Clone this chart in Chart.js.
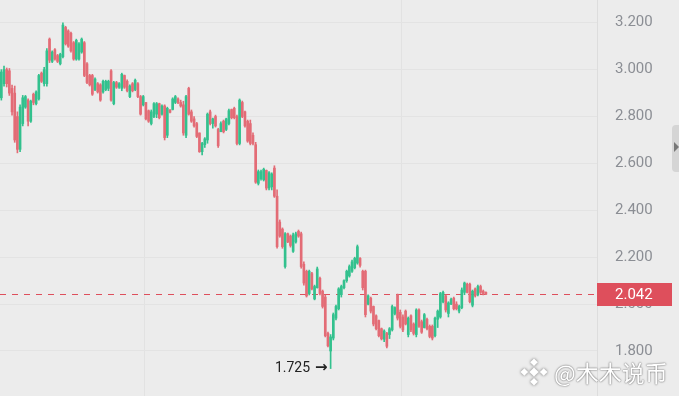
<!DOCTYPE html>
<html>
<head>
<meta charset="utf-8">
<script src="https://cdn.jsdelivr.net/npm/chart.js@4.4.1/dist/chart.umd.min.js"></script>
<style>
  html, body { margin: 0; padding: 0; background: #ececec; }
  #wrap { position: relative; width: 679px; height: 396px; overflow: hidden; }
  #tab { position: absolute; left: 672px; top: 125px; width: 10px; height: 47px; background: #d5d5d5; border-radius: 4px 0 0 4px; }
  #tab span { position: absolute; left: 2px; top: 17px; width: 0; height: 0; border-top: 5px solid transparent; border-bottom: 5px solid transparent; border-left: 5px solid #777; }
  #mark { position: absolute; left: 520px; top: 355px; display: flex; align-items: center; color: #fff;
          font-family: "Noto Sans CJK SC", sans-serif; font-size: 23px; text-shadow: 0 0 2px rgba(0,0,0,0.55), 0 0 1px rgba(0,0,0,0.4); }
  #mark svg { margin-right: 6px; filter: drop-shadow(0 0 1.5px rgba(0,0,0,0.55)); }
</style>
</head>
<body>
<div id="wrap">
  <canvas id="kline" width="679" height="396"></canvas>
  <div id="tab"><span></span></div>
  <div id="mark">
    <svg width="28" height="28" viewBox="0 0 26 26">
      <g fill="#fff">
        <rect x="10.5" y="1.5" width="5" height="5" transform="rotate(45 13 4)"/>
        <rect x="10.5" y="19.5" width="5" height="5" transform="rotate(45 13 22)"/>
        <rect x="1.5" y="10.5" width="5" height="5" transform="rotate(45 4 13)"/>
        <rect x="19.5" y="10.5" width="5" height="5" transform="rotate(45 22 13)"/>
        <rect x="10" y="10" width="6" height="6" transform="rotate(45 13 13)"/>
      </g>
    </svg>
    <span>@木木说币</span>
  </div>
</div>
<script>
// candles, oldest first
const opens = [
  2.88,2.94,3.00,2.995,2.92,2.90,2.80,2.66,2.77,2.84,
  2.87,2.78,2.895,2.855,2.875,2.985,2.94,2.94,3.13,3.035,
  3.085,3.06,3.025,3.055,3.18,3.165,3.155,3.115,3.045,3.045,
  3.075,3.115,3.025,2.975,2.975,2.915,2.94,2.935,2.905,2.915,
  2.92,2.995,2.855,2.945,2.925,2.92,2.975,2.95,2.885,2.94,
  2.915,2.94,2.885,2.85,2.86,2.825,2.77,2.80,2.81,2.855,
  2.81,2.845,2.72,2.828,2.83,2.86,2.875,2.86,2.85,2.72,
  2.92,2.82,2.79,2.77,2.73,2.65,2.68,2.70,2.82,2.77,
  2.80,2.745,2.735,2.78,2.745,2.77,2.83,2.835,2.80,2.685,
  2.86,2.82,2.78,2.77,2.72,2.68,2.515,2.535,2.53,2.57,
  2.495,2.50,2.58,2.46,2.35,2.32,2.16,2.30,2.29,2.225,
  2.265,2.31,2.30,2.17,2.14,2.045,2.13,2.022,2.07,2.11,
  2.055,2.03,1.875,1.80,1.855,1.94,1.98,2.04,2.07,2.10,
  2.12,2.14,2.155,2.175,2.195,2.14,2.14,2.00,2.025,1.99,
  1.95,1.93,1.895,1.85,1.875,1.87,1.89,1.96,2.04,1.965,
  1.945,1.97,1.87,1.95,1.915,1.87,1.975,1.925,1.90,1.935,
  1.905,1.905,1.865,1.935,1.945,2.01,2.035,1.96,2.00,2.025,
  2.00,1.97,1.985,2.05,2.085,2.085,1.995,2.065,2.04,2.075,
  2.055,2.05
];
const highs = [
  3.00,3.015,3.007,3.005,2.934,2.93,2.82,2.85,2.89,2.89,
  2.875,2.87,2.90,2.91,2.98,2.99,3.01,3.09,3.135,3.08,
  3.09,3.065,3.07,3.20,3.185,3.17,3.16,3.12,3.13,3.115,
  3.135,3.12,3.03,2.98,2.98,2.965,2.945,2.94,2.955,2.955,
  2.955,3.00,2.95,2.95,2.945,2.985,2.977,2.956,2.935,2.945,
  2.96,2.945,2.89,2.89,2.86,2.828,2.828,2.86,2.86,2.857,
  2.85,2.85,2.84,2.83,2.88,2.89,2.88,2.87,2.865,2.89,
  2.925,2.828,2.80,2.775,2.73,2.69,2.71,2.815,2.828,2.793,
  2.806,2.75,2.777,2.785,2.793,2.832,2.832,2.84,2.806,2.875,
  2.866,2.823,2.785,2.785,2.73,2.69,2.572,2.572,2.58,2.572,
  2.565,2.56,2.59,2.487,2.359,2.325,2.305,2.303,2.295,2.303,
  2.307,2.316,2.307,2.18,2.145,2.145,2.135,2.081,2.158,2.115,
  2.06,2.039,1.881,1.87,1.962,1.996,2.07,2.081,2.103,2.145,
  2.167,2.188,2.20,2.252,2.198,2.145,2.145,2.039,2.03,1.992,
  1.954,1.932,1.898,1.89,1.88,1.90,1.996,1.988,2.043,1.975,
  1.954,1.975,1.945,1.954,1.92,1.98,1.98,1.932,1.96,1.94,
  1.911,1.911,1.945,1.975,2.05,2.055,2.039,2.01,2.026,2.03,
  2.01,1.996,2.069,2.094,2.09,2.09,2.06,2.069,2.081,2.081,
  2.06,2.052
];
const lows = [
  2.87,2.93,2.926,2.89,2.806,2.69,2.645,2.65,2.76,2.835,
  2.76,2.775,2.85,2.85,2.87,2.945,2.93,2.93,3.03,3.03,
  3.04,3.03,3.02,3.05,3.105,3.095,3.075,3.04,3.04,3.04,
  3.07,2.97,2.94,2.93,2.89,2.91,2.90,2.865,2.90,2.91,
  2.91,2.865,2.85,2.92,2.92,2.91,2.92,2.905,2.88,2.905,
  2.91,2.88,2.806,2.845,2.785,2.775,2.764,2.795,2.795,2.79,
  2.806,2.70,2.71,2.815,2.828,2.855,2.855,2.84,2.72,2.71,
  2.806,2.775,2.755,2.71,2.647,2.636,2.668,2.686,2.764,2.75,
  2.755,2.668,2.735,2.73,2.74,2.764,2.79,2.79,2.679,2.679,
  2.795,2.755,2.69,2.679,2.679,2.515,2.508,2.529,2.525,2.487,
  2.487,2.487,2.455,2.238,2.285,2.238,2.153,2.262,2.243,2.22,
  2.26,2.285,2.153,2.081,2.03,2.039,2.06,2.018,2.068,2.039,
  1.983,1.86,1.817,1.725,1.847,1.932,1.975,2.03,2.065,2.093,
  2.115,2.135,2.15,2.17,2.158,2.06,1.945,1.996,1.962,1.907,
  1.89,1.86,1.847,1.84,1.813,1.853,1.885,1.954,1.932,1.898,
  1.882,1.911,1.86,1.882,1.868,1.86,1.90,1.875,1.898,1.89,
  1.856,1.847,1.86,1.90,1.94,2.005,1.966,1.945,1.998,1.975,
  1.975,1.962,1.98,2.04,2.048,2.005,1.988,2.03,2.035,2.045,
  2.039,2.04
];
const closes = [
  2.99,3.00,2.94,2.90,2.82,2.70,2.66,2.84,2.88,2.885,
  2.78,2.865,2.86,2.905,2.975,2.95,3.00,3.08,3.04,3.075,
  3.045,3.035,3.065,3.19,3.11,3.10,3.08,3.045,3.125,3.11,
  3.13,2.975,2.945,2.935,2.895,2.96,2.905,2.87,2.95,2.95,
  2.95,2.87,2.945,2.925,2.94,2.98,2.925,2.91,2.93,2.91,
  2.955,2.885,2.81,2.885,2.79,2.78,2.82,2.855,2.855,2.795,
  2.845,2.71,2.835,2.818,2.875,2.885,2.86,2.845,2.73,2.885,
  2.81,2.78,2.76,2.715,2.65,2.685,2.705,2.81,2.77,2.79,
  2.76,2.675,2.77,2.735,2.79,2.825,2.795,2.795,2.685,2.87,
  2.80,2.76,2.695,2.685,2.685,2.52,2.565,2.565,2.575,2.495,
  2.56,2.555,2.46,2.245,2.29,2.245,2.30,2.265,2.25,2.295,
  2.30,2.29,2.16,2.09,2.035,2.14,2.065,2.075,2.15,2.045,
  1.99,1.865,1.822,1.86,1.955,1.99,2.065,2.075,2.10,2.14,
  2.16,2.18,2.195,2.245,2.165,2.07,1.955,2.035,1.97,1.915,
  1.895,1.865,1.852,1.885,1.82,1.895,1.99,1.985,1.94,1.905,
  1.89,1.915,1.94,1.89,1.875,1.975,1.905,1.88,1.955,1.895,
  1.862,1.855,1.94,1.97,2.045,2.05,1.975,2.005,2.02,1.98,
  1.98,1.99,2.06,2.09,2.05,2.01,2.055,2.035,2.075,2.05,
  2.045,2.042
];
const priceTicks = [1.8, 2.0, 2.2, 2.4, 2.6, 2.8, 3.0, 3.2];
const slotCount = 223;          // candle slots across the visible window
const timeGridAt = [54, 150];   // slot boundaries with a vertical grid line

const UP = '#33c18e';
const DOWN = '#e36c76';
const LAST = '#de4f5c';

const slots = Array.from({ length: slotCount }, (_, i) => i + 1);
const wicks = lows.map((l, i) => [l, highs[i]]);
const bodies = opens.map((o, i) => [o, closes[i]]);
const colors = opens.map((o, i) => closes[i] >= o ? UP : DOWN);

const lastClose = closes[closes.length - 1];
let lowIdx = 0;
lows.forEach((l, i) => { if (l < lows[lowIdx]) lowIdx = i; });

const overlay = {
  id: 'overlay',
  beforeDatasetsDraw(chart) {
    const { ctx, chartArea } = chart;
    const y = Math.round(chart.scales.y.getPixelForValue(lastClose)) + 0.5;
    ctx.save();
    ctx.strokeStyle = LAST;
    ctx.lineWidth = 1;
    ctx.setLineDash([6, 6]);
    ctx.beginPath();
    ctx.moveTo(chartArea.left, y);
    ctx.lineTo(chartArea.right, y);
    ctx.stroke();
    ctx.restore();
  },
  afterDraw(chart) {
    const { ctx, chartArea } = chart;
    const ys = chart.scales.y;
    const y = ys.getPixelForValue(lastClose);
    ctx.save();
    ctx.fillStyle = LAST;
    ctx.fillRect(chartArea.right, Math.round(y) - 11, 75, 23);
    ctx.fillStyle = '#fff';
    ctx.font = '15px Roboto';
    ctx.textBaseline = 'middle';
    ctx.textAlign = 'left';
    ctx.fillText(lastClose.toFixed(3), chartArea.right + 18, y + 1);

    // lowest low marker
    const lx = chart.scales.x.getPixelForValue(lowIdx);
    const ly = ys.getPixelForValue(lows[lowIdx]);
    ctx.fillStyle = '#222';
    ctx.textAlign = 'right';
    ctx.font = 'bold 15px "DejaVu Sans"';
    ctx.fillText('\u2192', lx - 3, ly);
    const aw = ctx.measureText('\u2192').width;
    ctx.font = '14px Roboto';
    ctx.fillText(lows[lowIdx].toFixed(3), lx - 8 - aw, ly);
    ctx.restore();
  }
};

new Chart(document.getElementById('kline'), {
  type: 'bar',
  data: {
    labels: slots,
    datasets: [
      { data: wicks, backgroundColor: colors, barThickness: 1, grouped: false, borderWidth: 0, borderSkipped: false },
      { data: bodies, backgroundColor: colors, barThickness: 2, grouped: false, borderWidth: 0, borderSkipped: false, minBarLength: 1 }
    ]
  },
  options: {
    responsive: false,
    animation: false,
    events: [],
    layout: { padding: 0 },
    plugins: { legend: { display: false }, tooltip: { enabled: false } },
    scales: {
      x: {
        ticks: { display: false },
        grid: {
          drawTicks: false,
          color: ctx => timeGridAt.includes(ctx.index) ? '#e2e2e2' : 'rgba(0,0,0,0)'
        },
        border: { display: false }
      },
      y: {
        position: 'right',
        min: 1.608,
        max: 3.297,
        afterBuildTicks: s => { s.ticks = priceTicks.map(v => ({ value: v })); },
        afterFit: s => { s.width = 82; s.paddingTop = 0; s.paddingBottom = 0; },
        grid: { color: '#e3e3e3', drawTicks: false },
        border: { display: true, color: '#dddddd' },
        ticks: {
          padding: 18,
          color: '#8b8e94',
          font: { family: 'Roboto', size: 15 },
          callback: v => v.toFixed(3)
        }
      }
    }
  },
  plugins: [overlay]
});
</script>
</body>
</html>
